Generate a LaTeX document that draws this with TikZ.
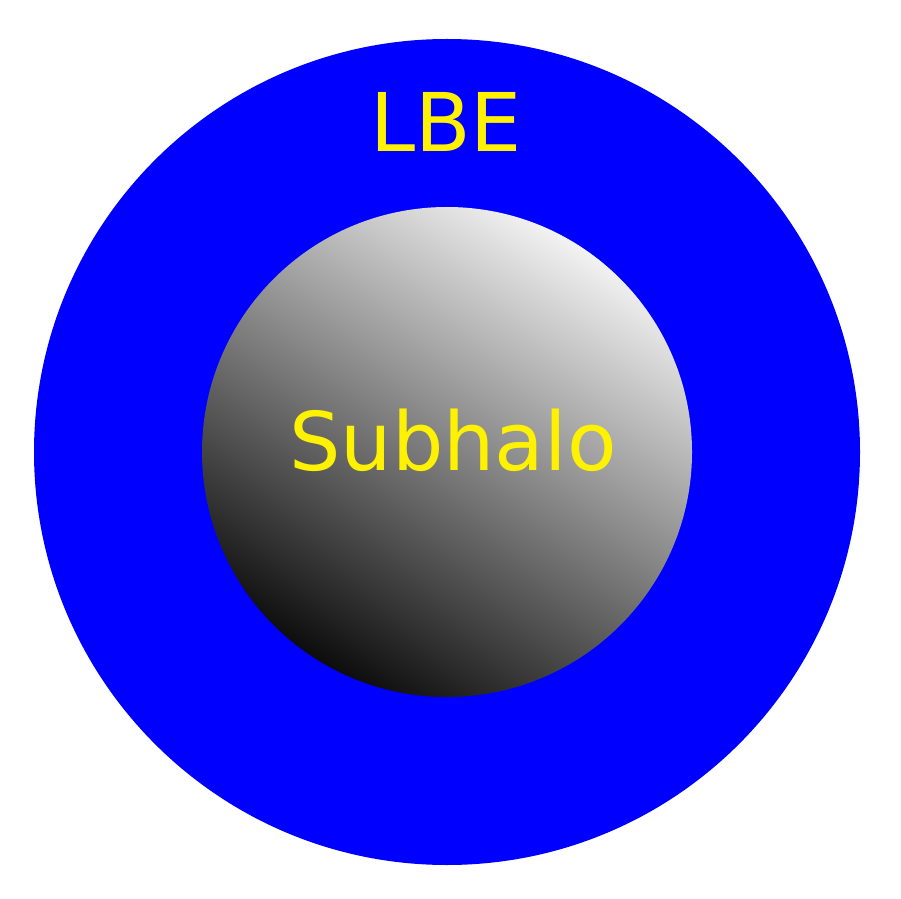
\documentclass[tikz,border=0pt]{standalone}
\usepackage{fontspec}
\setmainfont{DejaVu Sans}
\usepackage{tikz}

\pgfdeclareverticalshading{ballgrad}{100bp}{color(0bp)=(black); color(22.3bp)=(black);
	color(77.7bp)=(white); color(100bp)=(white)}

\begin{document}
\begin{tikzpicture}[x=1pt, y=1pt,
	label/.style={text=yellow, inner sep=0pt, anchor=base, font=\fontsize{81}{96}\selectfont}]
	\useasboundingbox (0,0) rectangle (901,898);
	\node (lbe) [circle, fill=blue, inner sep=0pt, minimum size=826pt] at (447,446) {};
	\node (sub) [circle, shading=ballgrad, shading angle=-31.4, inner sep=0pt,
		minimum size=490pt] at (lbe.center) {};
	\node (lbetext) [label] at (446,746) {LBE};
	\node (subtext) [label] at (453,428) {Subhalo};
\end{tikzpicture}
\end{document}
